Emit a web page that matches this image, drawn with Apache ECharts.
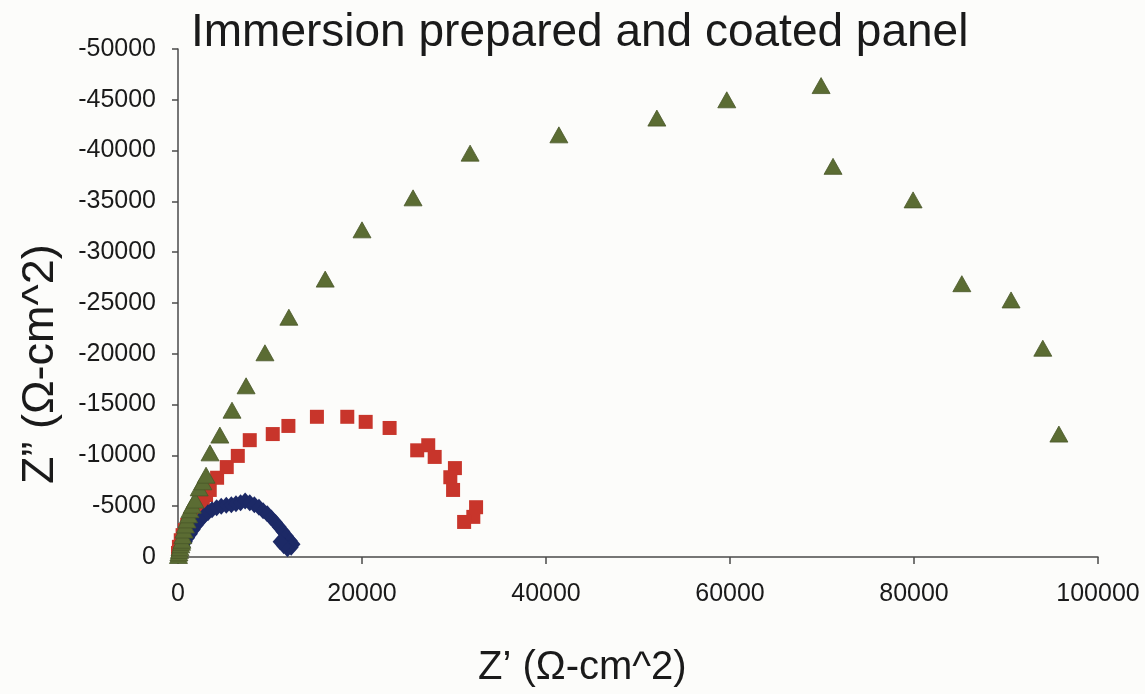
<!DOCTYPE html>
<html>
<head>
<meta charset="utf-8">
<script src="https://cdn.jsdelivr.net/npm/echarts@6/dist/echarts.min.js"></script>
<style>
  html, body { margin: 0; padding: 0; background: #fcfcfa; }
  #chart { width: 1145px; height: 694px; }
</style>
</head>
<body>
<div id="chart"></div>
<script>
// Nyquist plot: real impedance Z' vs imaginary impedance Z'' (Ω-cm^2)
const titleText = 'Immersion prepared and coated panel';
const xName = 'Z\u2019 (\u03A9-cm^2)';
const yName = 'Z\u201D (\u03A9-cm^2)';

// Series 1 (blue diamonds)
const blueX = [100, 300, 550, 800, 1050, 1350, 1650, 2000, 2400, 2800, 3250, 3700, 4200, 4700, 5250, 5800, 6300, 6800, 7300, 7800, 8300, 8800, 9250, 9700, 10150, 10600, 11000, 11400, 11800, 12200, 12500, 12300, 11900, 11500, 11100];
const blueY = [-200, -600, -1050, -1500, -1900, -2300, -2700, -3150, -3600, -4000, -4350, -4650, -4850, -5000, -5100, -5150, -5250, -5350, -5500, -5350, -5150, -4900, -4550, -4250, -3850, -3400, -2950, -2500, -2050, -1600, -1250, -950, -800, -1100, -1500];

// Series 2 (red squares)
const redX = [0, 100, 300, 500, 750, 1000, 1300, 1600, 1950, 2300, 2700, 3050, 3450, 4250, 5300, 6500, 7800, 10300, 12000, 15100, 18400, 20400, 23000, 26000, 27200, 27900, 30100, 29600, 29900, 32400, 32100, 31100];
const redY = [-400, -1000, -1650, -2150, -2650, -3150, -3650, -4100, -4600, -5100, -5600, -6100, -6600, -7800, -8850, -9950, -11500, -12100, -12900, -13800, -13800, -13300, -12700, -10500, -11000, -9850, -8750, -7850, -6600, -4900, -3950, -3450];

// Series 3 (green triangles)
const greenX = [50, 100, 160, 220, 300, 380, 430, 520, 650, 800, 980, 1150, 1300, 1550, 1850, 2300, 2700, 3050, 3480, 4550, 5870, 7400, 9450, 12050, 16000, 20000, 25550, 31750, 41400, 52050, 59650, 69900, 71200, 79900, 85200, 90550, 94000, 95750];
const greenY = [-150, -400, -650, -900, -1200, -1450, -1650, -2100, -2650, -3150, -3650, -4150, -4650, -5100, -5600, -6800, -7400, -8050, -10250, -12000, -14450, -16850, -20100, -23600, -27350, -32200, -35350, -39750, -41550, -43200, -45000, -46400, -38450, -35150, -26900, -25300, -20550, -12100];

const pairs = (xs, ys) => xs.map((x, i) => [x, ys[i]]);

const FONT = '"Liberation Sans", Arial, sans-serif';
const axisColor = '#4a4a4a';
const textColor = '#1a1a1a';

const chart = echarts.init(document.getElementById('chart'), null, { renderer: 'canvas' });

chart.setOption({
  backgroundColor: '#fcfcfa',
  animation: false,
  title: {
    text: titleText,
    left: 186,
    top: 5,
    textStyle: { fontFamily: FONT, fontSize: 46, fontWeight: 'normal', color: textColor }
  },
  grid: { left: 178, right: 47, top: 49, bottom: 137, containLabel: false },
  xAxis: {
    type: 'value',
    min: 0,
    max: 100000,
    interval: 20000,
    axisLine: { show: true, lineStyle: { color: axisColor, width: 1.5 } },
    axisTick: { show: true, length: 7, lineStyle: { color: axisColor, width: 1.5 } },
    splitLine: { show: false },
    axisLabel: { fontFamily: FONT, fontSize: 25, color: textColor, margin: 25, formatter: v => String(v) }
  },
  yAxis: {
    type: 'value',
    inverse: true,
    min: -50000,
    max: 0,
    interval: 5000,
    axisLine: { show: true, onZero: false, lineStyle: { color: axisColor, width: 1.5 } },
    axisTick: { show: true, length: 6, lineStyle: { color: axisColor, width: 1.5 } },
    splitLine: { show: false },
    axisLabel: { fontFamily: FONT, fontSize: 25, color: textColor, margin: 22, formatter: v => String(v) }
  },
  graphic: [
    {
      type: 'text',
      left: 478,
      top: 648,
      style: { text: xName, font: '40px ' + FONT, fill: textColor }
    },
    {
      type: 'text',
      x: 18,
      y: 484,
      rotation: Math.PI / 2,
      style: { text: yName, font: '45px ' + FONT, fill: textColor }
    }
  ],
  series: [
    {
      name: 'red',
      type: 'scatter',
      data: pairs(redX, redY),
      symbol: 'rect',
      symbolSize: 14,
      itemStyle: { color: '#c8352b', opacity: 1 },
      z: 2
    },
    {
      name: 'blue',
      type: 'scatter',
      data: pairs(blueX, blueY),
      symbol: 'diamond',
      symbolSize: [15, 17],
      itemStyle: { color: '#1c2966', opacity: 1 },
      z: 3
    },
    {
      name: 'green',
      type: 'scatter',
      data: pairs(greenX, greenY),
      symbol: 'triangle',
      symbolSize: [18, 16],
      itemStyle: { color: '#5b6c33', borderColor: '#4a5829', borderWidth: 0.8, opacity: 1 },
      z: 4
    }
  ]
});
</script>
</body>
</html>
